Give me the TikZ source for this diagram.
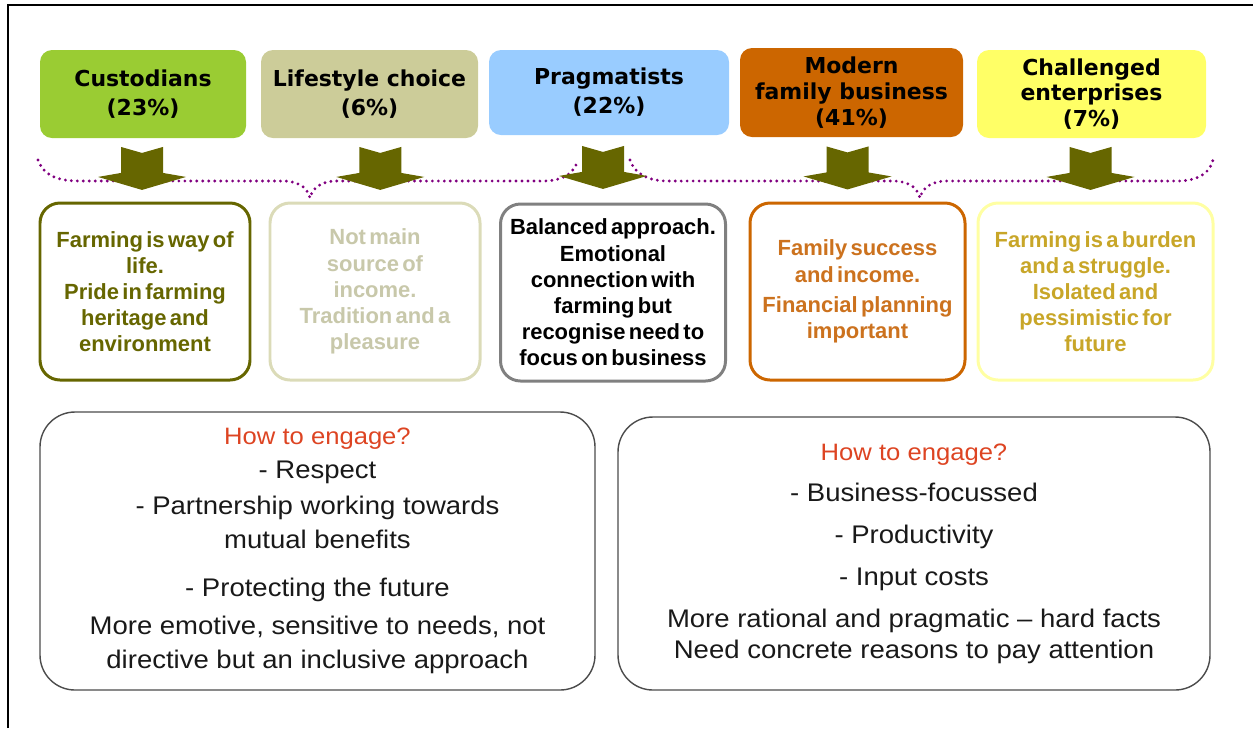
\documentclass[tikz,border=0pt]{standalone}
\usepackage{fontspec}
\usepackage{tikz}
\usetikzlibrary{calc}

\setmainfont{Liberation Sans}
\newfontfamily\headfont{DejaVu Sans}
\newfontfamily\notefont[WordSpace=0.55]{Liberation Sans}
\newfontfamily\engagefont[FakeStretch=1.08]{Liberation Sans}

\definecolor{custgreen}{RGB}{154,204,51}
\definecolor{lifekhaki}{RGB}{204,204,153}
\definecolor{pragblue}{RGB}{153,204,255}
\definecolor{modernorange}{RGB}{204,102,0}
\definecolor{challyellow}{RGB}{255,255,102}
\definecolor{arrowolive}{RGB}{102,102,0}
\definecolor{lifetext}{RGB}{200,200,170}
\definecolor{moderntext}{RGB}{204,114,30}
\definecolor{challtext}{RGB}{200,166,40}
\definecolor{bracepurple}{RGB}{128,0,128}
\definecolor{engagered}{RGB}{221,68,34}

\tikzset{
	segment/.style={rounded corners=0.24cm, align=center, inner sep=0pt,
		font={\headfont\bfseries\fontsize{12.5}{14.6}\selectfont}},
	note/.style={draw, line width=1.7pt, rounded corners=0.4cm, fill=white,
		align=center, inner sep=0pt, minimum height=177*0.02cm,
		font={\notefont\bfseries\fontsize{12.5}{14.9}\selectfont}},
	engage/.style={draw=black!70, line width=0.8pt, rounded corners=0.7cm,
		align=center, inner sep=0pt, text=black!90},
	brace/.style={draw=bracepurple, line width=1.8pt, line cap=round,
		dash pattern=on 0pt off 3.4pt},
	downarrow/.pic={
		\fill[arrowolive] (-21,-23) -- (0,-17) -- (21,-23) -- (21,3) -- (44,7)
			-- (0,20) -- (-44,7) -- (-21,3) -- cycle;
	}
}

\begin{document}
\begin{tikzpicture}[x=0.02cm, y=-0.02cm]
	\useasboundingbox (0,0) rectangle (1253,728);
	\draw [line width=0.9pt] (8,728) -- (8,5) -- (1253,5);

	% five farmer segments
	\node [segment, fill=custgreen, minimum width=206*0.02cm, minimum height=88*0.02cm] (cust) at (143,94) {Custodians\\[2pt](23\%)};
	\node [segment, fill=lifekhaki, minimum width=217*0.02cm, minimum height=88*0.02cm] (life) at (369.5,94) {Lifestyle choice\\[2pt](6\%)};
	\node [segment, fill=pragblue, minimum width=240*0.02cm, minimum height=85*0.02cm] (prag) at (609,92.5) {Pragmatists\\[2pt](22\%)};
	\node [segment, fill=modernorange, minimum width=223*0.02cm, minimum height=89*0.02cm] (modern) at (851.5,92.5) {Modern\\family business\\(41\%)};
	\node [segment, fill=challyellow, minimum width=229*0.02cm, minimum height=88*0.02cm] (chall) at (1091.5,94) {Challenged\\enterprises\\(7\%)};

	% what farming means to each
	\node [note, draw=arrowolive, text=arrowolive, minimum width=210*0.02cm] (custnote) at (145,291.5) {Farming is way of\\life.\\Pride in farming\\heritage and\\environment};
	\node [note, draw=lifekhaki!70, text=lifetext, minimum width=210*0.02cm] (lifenote) at (375,291.5) {Not main\\source of\\income.\\Tradition and a\\pleasure};
	\node [note, draw=gray, text=black, minimum width=225*0.02cm] (pragnote) at (613,292.5) {Balanced approach.\\Emotional\\connection with\\farming but\\recognise need to\\focus on business};
	\node [note, draw=modernorange, text=moderntext, minimum width=215*0.02cm] (modernnote) at (857.5,291.5) {Family success\\and income.\\[2.3pt]Financial planning\\important};
	\node [note, draw=challyellow!60, text=challtext, minimum width=235*0.02cm] (challnote) at (1095.5,291.5) {Farming is a burden\\and a struggle.\\Isolated and\\pessimistic for\\future};

	% dotted braces grouping the segments
	\draw [brace] (38,160) .. controls (44,176) and (58,181) .. (80,181) -- (285,181)
		.. controls (302,182) and (308,190) .. (310,198) .. controls (312,190) and (318,182) .. (335,181)
		-- (545,181) .. controls (566,180) and (574,172) .. (578,160);
	\draw [brace] (630,160) .. controls (634,172) and (645,180) .. (665,181) -- (895,181)
		.. controls (912,182) and (918,190) .. (920,198) .. controls (922,190) and (928,182) .. (945,181)
		-- (1180,181) .. controls (1200,180) and (1210,172) .. (1213,160);

	\foreach \seg/\note/\dx in {cust/custnote/-2, life/lifenote/8, prag/pragnote/-8, modern/modernnote/-7, chall/challnote/-3}
		\path ($(\seg.south)!0.5!(\note.north)+(\dx,0)$) pic {downarrow};

	% engagement advice
	\node [engage, minimum width=555*0.02cm, minimum height=278*0.02cm,
		font={\engagefont\fontsize{14.5}{19.3}\selectfont}] (engageleft) at (317.5,551)
		{{\fontsize{13.5}{19.3}\selectfont\color{engagered}How to engage?}\\
		- Respect\\[1pt]
		- Partnership working towards\\
		mutual benefits\\[8.5pt]
		- Protecting the future\\[2.3pt]
		More emotive, sensitive to needs, not\\
		directive but an inclusive approach};
	\node [engage, minimum width=592*0.02cm, minimum height=273*0.02cm,
		font={\engagefont\fontsize{14.5}{17.6}\selectfont}] (engageright) at (914,553.5)
		{{\fontsize{13.5}{17.6}\selectfont\color{engagered}How to engage?}\\[6.2pt]
		- Business-focussed\\[6.2pt]
		- Productivity\\[6.2pt]
		- Input costs\\[6.2pt]
		More rational and pragmatic \textendash{} hard facts\\
		Need concrete reasons to pay attention};
\end{tikzpicture}
\end{document}
